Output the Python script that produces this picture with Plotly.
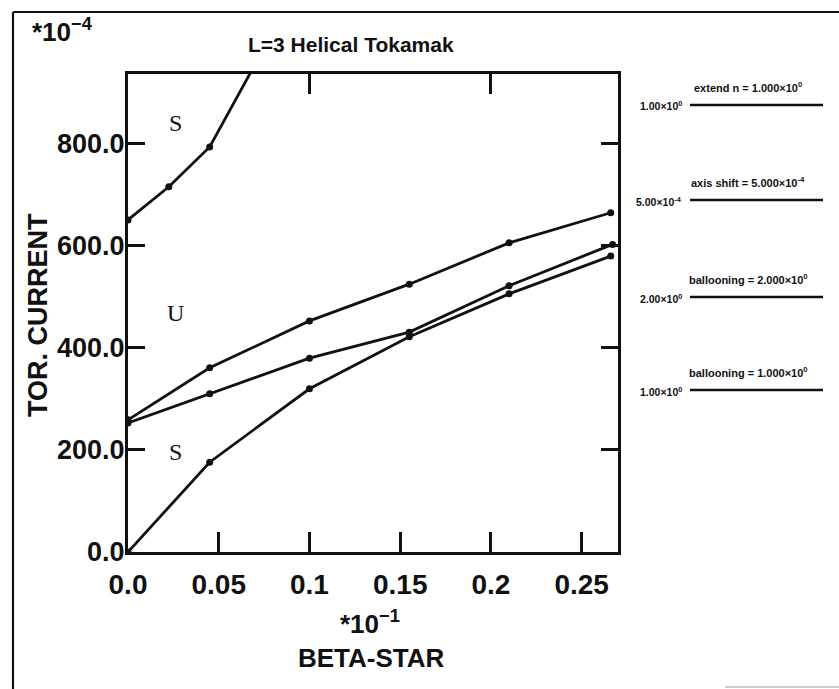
import plotly.graph_objects as go

# ---- data ----
s1_x = [0.0, 0.0225, 0.045, 0.1]
s1_y = [651, 716, 794, 1150]

s2_x = [0.0, 0.045, 0.1, 0.155, 0.21, 0.266]
s2_y = [259, 361, 453, 525, 606, 665]

s3_x = [0.0, 0.045, 0.1, 0.155, 0.21, 0.267]
s3_y = [253, 310, 380, 431, 522, 603]

s4_x = [0.0, 0.045, 0.1, 0.155, 0.21, 0.266]
s4_y = [0, 176, 320, 422, 506, 580]

x_tickvals = [0.0, 0.05, 0.1, 0.15, 0.2, 0.25]
x_ticktext = ["0.0", "0.05", "0.1", "0.15", "0.2", "0.25"]
y_tickvals = [0, 200, 400, 600, 800]
y_ticktext = ["0.0", "200.0", "400.0", "600.0", "800.0"]
top_tickvals = [0.1, 0.2]

region_labels = ["S", "U", "S"]
region_y = [841, 469, 196]
region_x = 0.026

legend_text = ["extend n = 1.000×10<sup>0</sup>",
               "axis shift = 5.000×10<sup>-4</sup>",
               "ballooning = 2.000×10<sup>0</sup>",
               "ballooning = 1.000×10<sup>0</sup>"]
legend_values = ["1.00×10<sup>0</sup>", "5.00×10<sup>-4</sup>",
                 "2.00×10<sup>0</sup>", "1.00×10<sup>0</sup>"]

# ---- layout geometry ----
W, H = 839, 689
L, R, T, B = 128, 618, 74, 552
PW, PH = R - L, B - T


def px(x):
    return (x - L) / PW


def py(y):
    return (B - y) / PH


FONT = "Liberation Sans, Arial, sans-serif"
BLACK = "#111111"

fig = go.Figure()
for xs, ys in [(s1_x, s1_y), (s2_x, s2_y), (s3_x, s3_y), (s4_x, s4_y)]:
    fig.add_trace(go.Scatter(x=xs, y=ys, mode="lines+markers",
                             line=dict(color=BLACK, width=2.8),
                             marker=dict(color=BLACK, size=7),
                             showlegend=False))
# dummy trace for top axis ticks
fig.add_trace(go.Scatter(x=[0, 0.27], y=[0, 0], xaxis="x2", mode="lines",
                         line=dict(width=0), hoverinfo="skip", showlegend=False))

fig.update_layout(
    width=W, height=H,
    margin=dict(l=L, r=W - R, t=T, b=H - B),
    paper_bgcolor="white", plot_bgcolor="white",
    font=dict(family=FONT, color=BLACK),
    xaxis=dict(range=[0, 0.27], tickvals=x_tickvals, ticktext=x_ticktext,
               ticks="inside", ticklen=20, tickwidth=2.8, tickcolor=BLACK,
               showline=True, linewidth=3, linecolor=BLACK, mirror=True,
               showgrid=False, zeroline=False,
               tickfont=dict(size=28, family=FONT, weight="bold"),
               ticklabelstandoff=5),
    xaxis2=dict(range=[0, 0.27], overlaying="x", side="top",
                tickvals=top_tickvals, ticks="inside", ticklen=20,
                tickwidth=2.8, tickcolor=BLACK, showticklabels=False,
                showline=False, showgrid=False, zeroline=False),
    yaxis=dict(range=[0, 937], tickvals=y_tickvals, ticktext=y_ticktext,
               ticks="inside", ticklen=17, tickwidth=2.8, tickcolor=BLACK,
               showline=True, linewidth=3, linecolor=BLACK, mirror="ticks",
               showgrid=False, zeroline=False,
               tickfont=dict(size=27, family=FONT, weight="bold"),
               ticklabelstandoff=-5),
)

ann = []
ann.append(dict(text="<b>L=3 Helical Tokamak</b>", x=px(351), y=py(45), xref="paper",
                yref="paper", showarrow=False, font=dict(size=21, family=FONT),
                xanchor="center", yanchor="middle"))
ann.append(dict(text="<b>*10<sup>−4</sup></b>", x=px(30), y=py(30), xref="paper",
                yref="paper", showarrow=False, font=dict(size=26, family=FONT),
                xanchor="left", yanchor="middle"))
ann.append(dict(text="<b>TOR. CURRENT</b>", x=px(38), y=py(315), xref="paper",
                yref="paper", showarrow=False, textangle=-90,
                font=dict(size=27, family=FONT),
                xanchor="center", yanchor="middle"))
ann.append(dict(text="<b>*10<sup>−1</sup></b>", x=px(370), y=py(622), xref="paper",
                yref="paper", showarrow=False, font=dict(size=26, family=FONT),
                xanchor="center", yanchor="middle"))
ann.append(dict(text="<b>BETA-STAR</b>", x=px(371), y=py(658), xref="paper",
                yref="paper", showarrow=False, font=dict(size=26, family=FONT),
                xanchor="center", yanchor="middle"))
for lab, yv in zip(region_labels, region_y):
    ann.append(dict(text=lab, x=region_x, y=yv, xref="x", yref="y",
                    showarrow=False,
                    font=dict(size=24, family="Liberation Serif, Times New Roman, serif"),
                    xanchor="center", yanchor="middle"))

shapes = []
line_y = [105, 200, 297, 390]
for i, (txt, val) in enumerate(zip(legend_text, legend_values)):
    ly = line_y[i]
    shapes.append(dict(type="line", xref="paper", yref="paper",
                       x0=px(690), x1=px(823), y0=py(ly), y1=py(ly),
                       line=dict(color=BLACK, width=2.4)))
    ann.append(dict(text="<b>" + txt + "</b>", x=px(748), y=py(ly - 18),
                    xref="paper", yref="paper", showarrow=False,
                    font=dict(size=11, family=FONT),
                    xanchor="center", yanchor="middle"))
    ann.append(dict(text="<b>" + val + "</b>", x=px(684), y=py(ly + 1),
                    xref="paper", yref="paper", showarrow=False,
                    font=dict(size=10.5, family=FONT),
                    xanchor="right", yanchor="middle"))

# outer frame
shapes.append(dict(type="line", xref="paper", yref="paper",
                   x0=px(13), x1=px(13), y0=py(12), y1=py(689),
                   line=dict(color=BLACK, width=2.2)))
shapes.append(dict(type="line", xref="paper", yref="paper",
                   x0=px(13), x1=px(839), y0=py(12), y1=py(12),
                   line=dict(color=BLACK, width=2.2)))
shapes.append(dict(type="line", xref="paper", yref="paper",
                   x0=px(725), x1=px(839), y0=py(687), y1=py(687),
                   line=dict(color="#bbbbbb", width=1.5)))

fig.update_layout(annotations=ann, shapes=shapes)
fig.write_html("out.html")
